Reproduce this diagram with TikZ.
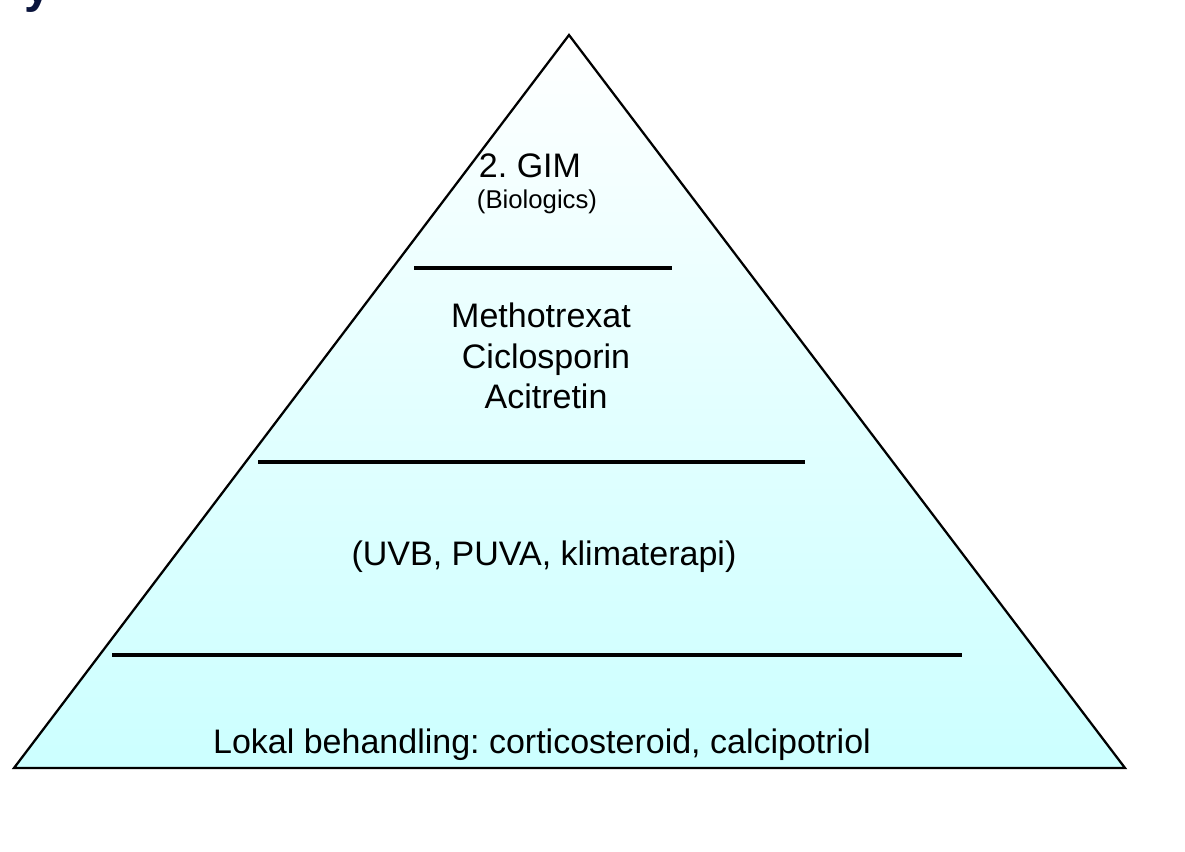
\documentclass[tikz,border=0pt]{standalone}
\usepackage{fontspec}
\setmainfont{Liberation Sans}
\definecolor{pyrcyan}{RGB}{204,255,255}
\definecolor{titlenavy}{RGB}{10,20,60}
\frenchspacing
\begin{document}
\begin{tikzpicture}[x=0.75pt,y=-0.75pt,
  bigtxt/.style={font=\fontsize{25.5pt}{30pt}\selectfont, inner sep=0pt, anchor=base},
  smalltxt/.style={font=\fontsize{19.3pt}{23pt}\selectfont, inner sep=0pt, anchor=base},
  divider/.style={line width=2.3pt},
  pyr/.style={line width=1.7pt, line join=miter}]
\useasboundingbox (0,0) rectangle (1185,851);
% title fragment cut off at the top
\begin{scope}
\clip (0,0) rectangle (1185,851);
\node[font=\bfseries\fontsize{36pt}{40pt}\selectfont, text=titlenavy, inner sep=0pt, anchor=base west] (ttl) at (24,2) {y};
\end{scope}
% pyramid
\coordinate (apex) at (569,35);
\coordinate (bl) at (14,768);
\coordinate (br) at (1125,768);
\shade[top color=white, bottom color=pyrcyan, middle color=pyrcyan!55!white] (apex) -- (bl) -- (br) -- cycle;
\draw[pyr] (apex) -- (bl) -- (br) -- cycle;
% dividers
\coordinate (d1a) at (414,268); \coordinate (d1b) at (672,268);
\coordinate (d2a) at (258,462); \coordinate (d2b) at (805,462);
\coordinate (d3a) at (112,655); \coordinate (d3b) at (962,655);
\draw[divider] (d1a) -- (d1b);
\draw[divider] (d2a) -- (d2b);
\draw[divider] (d3a) -- (d3b);
% labels
\node[bigtxt] (gim) at (530,177) {2. GIM};
\node[smalltxt] (bio) at (537,208) {(Biologics)};
\node[bigtxt] (mtx) at (541,327) {Methotrexat};
\node[bigtxt] (cic) at (546,368) {Ciclosporin};
\node[bigtxt] (aci) at (546,408) {Acitretin};
\node[bigtxt] (uvb) at (544,565) {(UVB, PUVA, klimaterapi)};
\node[bigtxt] (lok) at (542,753) {Lokal behandling: corticosteroid, calcipotriol};
\end{tikzpicture}
\end{document}
